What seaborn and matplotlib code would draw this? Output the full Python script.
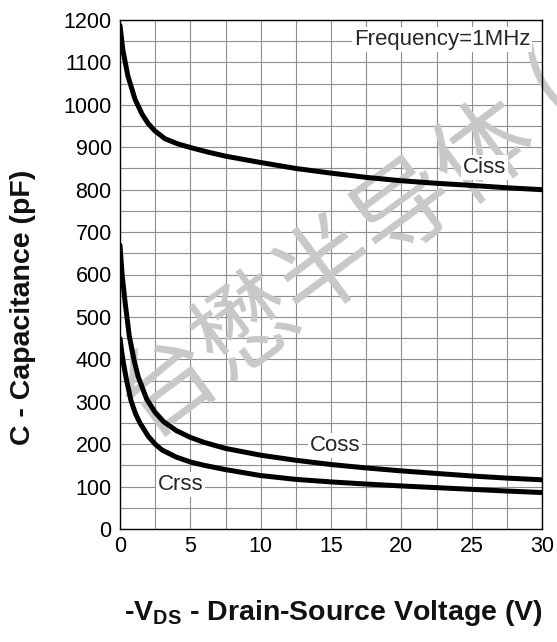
import numpy as np
import pandas as pd
import matplotlib
matplotlib.use("Agg")
import matplotlib.pyplot as plt
import seaborn as sns

# ---- data ----
v_ciss = [0, 0.2, 0.56, 1.07, 1.57, 2.0, 2.5, 3.2, 4.1, 5.05, 6.2, 7.5, 10, 12.5, 15, 17.5, 20, 22.5, 25, 27.5, 30]
c_ciss = [1187, 1130, 1068, 1013, 978, 956, 938, 920, 908, 899, 889, 879, 864, 850, 839, 829, 821, 815, 810, 804.5, 800]

v_coss = [0, 0.15, 0.36, 0.66, 1.0, 1.3, 1.9, 2.5, 3.1, 4.0, 5.0, 6.0, 7.5, 10, 12.5, 15, 17.5, 20, 22.5, 25, 27.5, 30]
c_coss = [669, 600, 535, 455, 398, 358, 306, 275, 253, 232, 216, 204, 190, 174, 162, 152, 144, 137, 131, 125, 120, 116]

v_crss = [0, 0.12, 0.24, 0.47, 0.78, 1.1, 1.42, 2.0, 2.5, 3.0, 4.0, 5.0, 6.0, 7.5, 10, 12.5, 15, 17.5, 20, 22.5, 25, 27.5, 30]
c_crss = [449, 418, 392, 350, 303, 272, 250, 219, 200, 186, 169.5, 158, 150, 140, 126, 117, 111, 106, 101.5, 97.5, 93.5, 89.5, 86]

x_ticks = [0, 5, 10, 15, 20, 25, 30]
y_ticks = [0, 100, 200, 300, 400, 500, 600, 700, 800, 900, 1000, 1100, 1200]

sns.set_theme(style="white")
plt.rcParams["font.family"] = ["Liberation Sans", "DejaVu Sans"]

fig = plt.figure(figsize=(5.57, 6.42), dpi=100)
ax = fig.add_axes([120 / 557, 1 - 529 / 642, 422 / 557, 509 / 642])

# grid every 2.5 V and 50 pF
ax.set_xticks(np.arange(0, 30.01, 2.5), minor=True)
ax.set_yticks(np.arange(0, 1200.1, 50), minor=True)
ax.grid(True, which="both", color="#8e8e8e", linewidth=0.8)
ax.set_axisbelow(True)

for v, c in [(v_ciss, c_ciss), (v_coss, c_coss), (v_crss, c_crss)]:
    df = pd.DataFrame({"V": v, "C": c})
    sns.lineplot(data=df, x="V", y="C", ax=ax, color="black", linewidth=3.6,
                 estimator=None, sort=False, zorder=3)

ax.set_xlim(0, 30)
ax.set_ylim(0, 1200)
ax.set_xticks(x_ticks)
ax.set_yticks(y_ticks)
ax.set_xticklabels([str(t) for t in x_ticks])
ax.set_yticklabels([str(t) for t in y_ticks])
ax.tick_params(axis="both", which="both", length=0, labelsize=15.5, colors="black")
ax.tick_params(axis="y", pad=6)
ax.tick_params(axis="x", pad=5)
for s in ax.spines.values():
    s.set_color("black")
    s.set_linewidth(1.0)

ax.set_ylabel("C - Capacitance (pF)", fontsize=20.5, fontweight="bold", color="#111111")
ax.yaxis.set_label_coords(-0.2, 0.435)
ax.set_xlabel(r"-V$_{\mathregular{DS}}$ - Drain-Source Voltage (V)", fontsize=20.5,
              fontweight="bold", color="#111111")
ax.xaxis.set_label_coords(0.505, -0.135)

bbox = dict(facecolor="white", edgecolor="none", pad=1.5)
ax.text(22.9, 1155, "Frequency=1MHz", fontsize=16, ha="center", va="center", bbox=bbox, zorder=4)
ax.text(25.9, 852, "Ciss", fontsize=16, ha="center", va="center", bbox=bbox, zorder=4)
ax.text(15.3, 198, "Coss", fontsize=16, ha="center", va="center", bbox=bbox, zorder=4)
ax.text(4.3, 104, "Crss", fontsize=16, ha="center", va="center", bbox=bbox, zorder=4)

# watermark
wm = dict(transform=fig.transFigure, fontsize=71, color="#c8c8c8",
          rotation=36.5, rotation_mode="anchor", ha="center", va="center",
          family=["Noto Sans CJK SC", "DejaVu Sans"], clip_on=False, zorder=2)
ax.text(326 / 557, 1 - 266 / 642, "台懋半导体", **wm)
ax.text(552 / 557, 1 - 86 / 642, "(", **wm)

fig.savefig("out.png", dpi=100)
